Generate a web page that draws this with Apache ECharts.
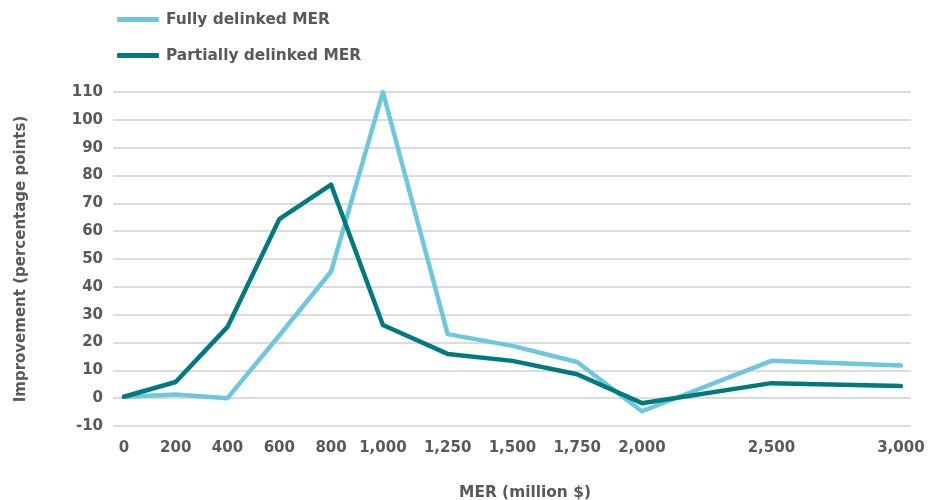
<!DOCTYPE html>
<html lang="en">
<head>
  <meta charset="UTF-8">
  <script src="https://cdn.jsdelivr.net/npm/echarts/dist/echarts.min.js"></script>
  <title>MER improvement</title>
  <style>
    html, body { margin: 0; padding: 0; background: #fff; }
    #chart { width: 935px; height: 500px; }
  </style>
</head>
<body>
  <div id="chart"></div>
  <script>
    // MER levels (million $) and improvement in percentage points
    const merValues = [0, 200, 400, 600, 800, 1000, 1250, 1500, 1750, 2000, 2500, 3000];
    const fullyDelinked = [0.5, 1.3, 0, 22.5, 45.5, 110, 23, 18.8, 13, -4.7, 13.4, 11.7];
    const partiallyDelinked = [0.5, 5.8, 25.6, 64.3, 76.7, 26.3, 15.9, 13.4, 8.6, -1.8, 5.4, 4.4];
    const yTicks = { min: -10, max: 110, step: 10 };

    const textColor = '#595959';
    const font = '"DejaVu Sans", sans-serif';

    const chart = echarts.init(document.getElementById('chart'));

    const toPairs = vals => merValues.map((x, i) => [x, vals[i]]);

    chart.setOption({
      animation: false,
      textStyle: { fontFamily: font },
      grid: { left: 113, right: 24, top: 92, bottom: 74, outerBoundsMode: 'none' },
      legend: {
        orient: 'vertical',
        left: 112,
        top: 7,
        itemWidth: 42,
        itemHeight: 5,
        itemGap: 21,
        icon: 'roundRect',
        textStyle: { color: textColor, fontSize: 15.4, fontWeight: 'bold', fontFamily: font, padding: [0, 0, 0, 2] },
        data: ['Fully delinked MER', 'Partially delinked MER']
      },
      xAxis: {
        type: 'value',
        min: -42,
        max: 3039,
        name: 'MER (million $)',
        nameLocation: 'middle',
        nameGap: 59,
        nameTextStyle: { color: textColor, fontSize: 15.4, fontWeight: 'bold', padding: [0, 0, 0, 26] },
        axisLine: { show: false },
        axisTick: { show: false },
        splitLine: { show: false },
        axisLabel: {
          customValues: merValues,
          margin: 15,
          color: textColor,
          fontSize: 15,
          fontWeight: 'bold',
          formatter: v => v.toLocaleString('en-US')
        }
      },
      yAxis: {
        type: 'value',
        min: yTicks.min,
        max: yTicks.max,
        interval: yTicks.step,
        name: 'Improvement (percentage points)',
        nameLocation: 'middle',
        nameGap: 84,
        nameTextStyle: { color: textColor, fontSize: 15, fontWeight: 'bold' },
        axisLine: { show: false },
        axisTick: { show: false },
        axisLabel: { color: textColor, fontSize: 15, fontWeight: 'bold', margin: 10 },
        splitLine: { lineStyle: { color: '#d0d0d0', width: 1.5 } }
      },
      series: [
        {
          name: 'Fully delinked MER',
          type: 'line',
          data: toPairs(fullyDelinked),
          showSymbol: false,
          symbol: 'none',
          color: '#6dc8dd',
          lineStyle: { width: 4.5, cap: 'round', join: 'round' }
        },
        {
          name: 'Partially delinked MER',
          type: 'line',
          data: toPairs(partiallyDelinked),
          showSymbol: false,
          symbol: 'none',
          color: '#007a7c',
          lineStyle: { width: 4.5, cap: 'round', join: 'round' }
        }
      ]
    });
  </script>
</body>
</html>
